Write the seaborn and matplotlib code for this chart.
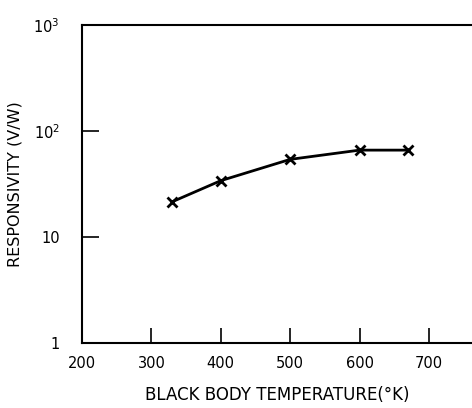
import numpy as np
import pandas as pd
import matplotlib
matplotlib.use("Agg")
import matplotlib.pyplot as plt
import seaborn as sns

### Data
temperature = [330, 400, 500, 600, 670]
responsivity = [21.5, 34, 54, 66, 66]

x_ticks = [200, 300, 400, 500, 600, 700]
y_ticks = [1, 10, 100, 1000]
y_tick_labels = ["1", "10", r"$10^2$", r"$10^3$"]

df = pd.DataFrame({"T": temperature, "R": responsivity})

sns.set_style("white")
plt.rcParams["font.family"] = ["DejaVu Sans"]
plt.rcParams["mathtext.default"] = "regular"
plt.rcParams["text.color"] = "black"
plt.rcParams["axes.labelcolor"] = "black"
plt.rcParams["xtick.color"] = "black"
plt.rcParams["ytick.color"] = "black"

fig = plt.figure(figsize=(4.72, 4.08), dpi=100)
ax = fig.add_axes([82 / 472, 65 / 408, 390 / 472, 318 / 408])

sns.lineplot(data=df, x="T", y="R", ax=ax, color="black", linewidth=2.0,
             marker="x", markersize=7, markeredgewidth=2.0, markeredgecolor="black")

ax.set_yscale("log")
ax.set_xlim(200, 762)
ax.set_ylim(1, 1000)
ax.set_xticks(x_ticks)
ax.set_xticklabels([str(t) for t in x_ticks], fontsize=10.5)
ax.set_yticks(y_ticks)
ax.set_yticklabels(y_tick_labels, fontsize=10.5)
ax.minorticks_off()
ax.tick_params(axis="both", direction="in", width=1.2, bottom=True, left=True,
               labelbottom=True, labelleft=True)
ax.tick_params(axis="x", length=11, pad=9)
ax.tick_params(axis="y", length=12, pad=16)

for side in ["left", "bottom", "top"]:
    ax.spines[side].set_color("black")
    ax.spines[side].set_linewidth(1.5)
ax.spines["right"].set_visible(False)

ax.set_xlabel("BLACK BODY TEMPERATURE(°K)", fontsize=12, labelpad=11)
ax.set_ylabel("RESPONSIVITY (V/W)", fontsize=11.5, labelpad=8)

fig.savefig("out.png", dpi=100)
